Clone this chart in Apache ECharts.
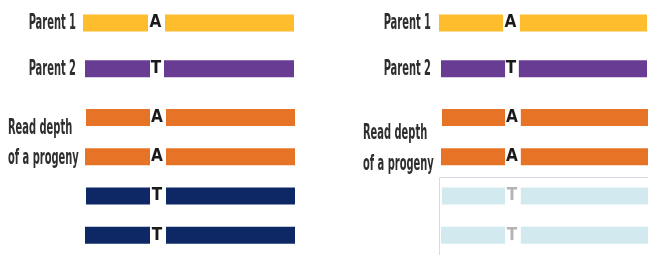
<!DOCTYPE html>
<html>
<head>
<meta charset="utf-8">
<script src="https://cdn.jsdelivr.net/npm/echarts@6/dist/echarts.min.js"></script>
<style>
  html, body { margin: 0; padding: 0; background: #fff; }
  #chart { width: 648px; height: 255px; }
</style>
</head>
<body>
<div id="chart"></div>
<script>
// rows, top to bottom: two parents, then four reads of one progeny
var rowNames = ['Parent 1', 'Parent 2', 'Read 1', 'Read 2', 'Read 3', 'Read 4'];
var alleles = ['A', 'T', 'A', 'A', 'T', 'T'];
// segment lengths along the sequence (same scale in both panels)
var rowStart = [0, 2, 3, 2, 3, 2];
var leftLen = [65, 65, 64, 65, 64, 65];
var gapLen = [17, 14, 16, 16, 16, 16];
var rightLen = [129, 130, 129, 129, 129, 129];

var font = '"DejaVu Sans Condensed", "Liberation Sans Narrow", sans-serif';
var colorsLeft = ['#FDBD2C', '#673C92', '#E77426', '#E77426', '#0E2866', '#0E2866'];
var colorsRight = ['#FDBD2C', '#673C92', '#E77426', '#E77426', '#D2E9EF', '#D2E9EF'];
var letterLeft = ['#1a1a1a', '#1a1a1a', '#1a1a1a', '#1a1a1a', '#1a1a1a', '#1a1a1a'];
var letterRight = ['#1a1a1a', '#1a1a1a', '#1a1a1a', '#1a1a1a', '#b4b4b4', '#b4b4b4'];

var chart = echarts.init(document.getElementById('chart'));

var grids = [
  { left: 83, width: 212, top: -0.5, height: 92 },
  { left: 83, width: 212, top: 97.75, height: 158 },
  { left: 439, width: 212, top: -0.5, height: 92 },
  { left: 439, width: 212, top: 97.75, height: 158 }
];
var rowRange = [[0, 2], [2, 6], [0, 2], [2, 6]];

var xAxes = [], yAxes = [], series = [];
grids.forEach(function (g, gi) {
  var a = rowRange[gi][0], b = rowRange[gi][1];
  var colors = gi < 2 ? colorsLeft : colorsRight;
  var letters = gi < 2 ? letterLeft : letterRight;
  xAxes.push({ gridIndex: gi, type: 'value', min: 0, max: 212, show: false });
  yAxes.push({ gridIndex: gi, type: 'category', inverse: true, data: rowNames.slice(a, b), show: false });
  var stack = 's' + gi;
  var base = { type: 'bar', xAxisIndex: gi, yAxisIndex: gi, stack: stack, barWidth: 17, silent: true, animation: false };
  series.push(Object.assign({}, base, {
    data: rowStart.slice(a, b), itemStyle: { color: 'transparent' }
  }));
  series.push(Object.assign({}, base, {
    data: leftLen.slice(a, b).map(function (v, i) { return { value: v, itemStyle: { color: colors[a + i] } }; })
  }));
  series.push(Object.assign({}, base, {
    data: gapLen.slice(a, b).map(function (v, i) {
      return { value: v, label: { color: letters[a + i] } };
    }),
    itemStyle: { color: 'transparent' },
    label: {
      show: true, position: 'inside', offset: [-1, 0],
      fontFamily: font, fontWeight: 'bold', fontSize: 17,
      formatter: function (p) { return alleles[a + p.dataIndex]; }
    }
  }));
  series.push(Object.assign({}, base, {
    data: rightLen.slice(a, b).map(function (v, i) { return { value: v, itemStyle: { color: colors[a + i] } }; })
  }));
});

function lab(text, x, y, align) {
  return {
    type: 'text', x: x, y: y, scaleX: 0.5, silent: true,
    style: {
      text: text, x: 0, y: 0, align: align, verticalAlign: 'middle',
      fontFamily: font, fontWeight: 'bold', fontSize: 22, fill: '#2e2e2e'
    }
  };
}

chart.setOption({
  animation: false,
  grid: grids,
  xAxis: xAxes,
  yAxis: yAxes,
  series: series,
  graphic: [
    { type: 'rect', silent: true, shape: { x: 439.5, y: 177.5, width: 300, height: 120 },
      style: { fill: 'none', stroke: '#d6dbe3', lineWidth: 1 } },
    lab('Parent 1', 76, 23, 'right'),
    lab('Parent 2', 76, 69, 'right'),
    lab('Read depth', 8, 128, 'left'),
    lab('of a progeny', 8, 158, 'left'),
    lab('Parent 1', 431, 23, 'right'),
    lab('Parent 2', 431, 69, 'right'),
    lab('Read depth', 363, 133, 'left'),
    lab('of a progeny', 363, 164, 'left')
  ]
});
</script>
</body>
</html>
